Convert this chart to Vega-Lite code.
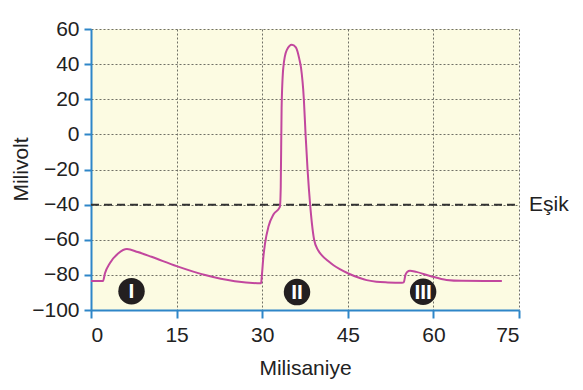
{
  "$schema": "https://vega.github.io/schema/vega-lite/v6.json",
  "width": 428,
  "height": 281,
  "autosize": {"type": "none"},
  "padding": {"left": 91, "top": 29, "right": 64, "bottom": 80},
  "background": "white",
  "config": {
    "view": {"fill": "#fcfbe2", "stroke": null},
    "font": "Liberation Sans",
    "axis": {"labelOverlap": false}
  },
  "datasets": {
    "potential": [
      {"t": 0, "mv": -83.5},
      {"t": 2.1, "mv": -83.5},
      {"t": 2.45, "mv": -79.1},
      {"t": 3.3, "mv": -73.4},
      {"t": 4.8, "mv": -67.7},
      {"t": 6.3, "mv": -65.3},
      {"t": 8.2, "mv": -67},
      {"t": 10.6, "mv": -69.7},
      {"t": 15, "mv": -75},
      {"t": 20, "mv": -80.1},
      {"t": 25.2, "mv": -83.6},
      {"t": 29.8, "mv": -84.8},
      {"t": 29.95, "mv": -80},
      {"t": 30.2, "mv": -70},
      {"t": 30.5, "mv": -62},
      {"t": 31.1, "mv": -52.5},
      {"t": 32, "mv": -45.5},
      {"t": 33.1, "mv": -41.3},
      {"t": 33.25, "mv": -30},
      {"t": 33.4, "mv": 15},
      {"t": 33.7, "mv": 38},
      {"t": 34.3, "mv": 48},
      {"t": 35.2, "mv": 51},
      {"t": 35.9, "mv": 49.5},
      {"t": 36.5, "mv": 43},
      {"t": 36.8, "mv": 38},
      {"t": 37.3, "mv": 20},
      {"t": 37.6, "mv": 0},
      {"t": 37.95, "mv": -20},
      {"t": 38.4, "mv": -40},
      {"t": 39.1, "mv": -60},
      {"t": 39.8, "mv": -66},
      {"t": 40.5, "mv": -69},
      {"t": 41.5, "mv": -72},
      {"t": 42.5, "mv": -74.5},
      {"t": 43.6, "mv": -76.7},
      {"t": 45.1, "mv": -79.2},
      {"t": 47.1, "mv": -81.8},
      {"t": 48.3, "mv": -83},
      {"t": 50, "mv": -83.9},
      {"t": 52, "mv": -84.3},
      {"t": 54.5, "mv": -84.5},
      {"t": 54.8, "mv": -84.3},
      {"t": 55.1, "mv": -80},
      {"t": 55.4, "mv": -78.3},
      {"t": 55.9, "mv": -77.6},
      {"t": 57, "mv": -78.3},
      {"t": 59.4, "mv": -80.6},
      {"t": 62.3, "mv": -82.9},
      {"t": 65, "mv": -83.4},
      {"t": 72, "mv": -83.5}
    ],
    "threshold": [
      {"t": 0, "mv": -40, "label": ""},
      {"t": 75, "mv": -40, "label": "Eşik"}
    ],
    "phases": [
      {"t": 7.1, "mv": -89.3, "label": "I"},
      {"t": 36.1, "mv": -89.8, "label": "II"},
      {"t": 58.2, "mv": -89.6, "label": "III"}
    ]
  },
  "encoding": {
    "x": {
      "field": "t", "type": "quantitative",
      "scale": {"domain": [0, 75], "nice": false},
      "axis": {
        "values": [0, 15, 30, 45, 60, 75],
        "labelOverlap": false,
        "title": "Milisaniye",
        "titleFontSize": 21, "titleFontWeight": "normal", "titleColor": "#222222",
        "titleY": 58, "titleBaseline": "middle",
        "labelFontSize": 21, "labelColor": "#222222", "labelPadding": 6,
        "domainColor": "#2e86c8", "domainWidth": 2,
        "tickColor": "#2e86c8", "tickWidth": 2, "tickSize": 8,
        "grid": true, "gridColor": "#707066", "gridDash": [2, 2], "gridWidth": 1
      }
    },
    "y": {
      "field": "mv", "type": "quantitative",
      "scale": {"domain": [-100, 60], "nice": false},
      "axis": {
        "values": [-100, -80, -60, -40, -20, 0, 20, 40, 60],
        "labelOverlap": false,
        "title": "Milivolt",
        "titleFontSize": 21, "titleFontWeight": "normal", "titleColor": "#222222",
        "titleX": -70, "titleY": 140, "titleBaseline": "middle", "titleAlign": "center",
        "labelFontSize": 21, "labelColor": "#222222", "labelPadding": 5,
        "domainColor": "#2e86c8", "domainWidth": 2,
        "tickColor": "#2e86c8", "tickWidth": 2, "tickSize": 7,
        "grid": true, "gridColor": "#707066", "gridDash": [2, 2], "gridWidth": 1
      }
    }
  },
  "layer": [
    {
      "data": {"name": "threshold"},
      "mark": {"type": "line", "color": "#333333", "strokeWidth": 2, "strokeDash": [8, 5]}
    },
    {
      "data": {"name": "threshold"},
      "mark": {"type": "text", "align": "left", "baseline": "middle", "dx": 10, "fontSize": 21, "color": "#222222"},
      "encoding": {
        "text": {"field": "label"}
      }
    },
    {
      "data": {"name": "potential"},
      "mark": {"type": "line", "color": "#c2479e", "strokeWidth": 2, "interpolate": "monotone"}
    },
    {
      "data": {"name": "phases"},
      "mark": {"type": "point", "filled": true, "color": "#231f20", "opacity": 1, "size": 700}
    },
    {
      "data": {"name": "phases"},
      "mark": {"type": "text", "font": "Liberation Sans", "fontWeight": "bold", "fontSize": 21, "color": "white", "align": "center", "baseline": "middle", "dy": 1},
      "encoding": {
        "text": {"field": "label"}
      }
    }
  ]
}
